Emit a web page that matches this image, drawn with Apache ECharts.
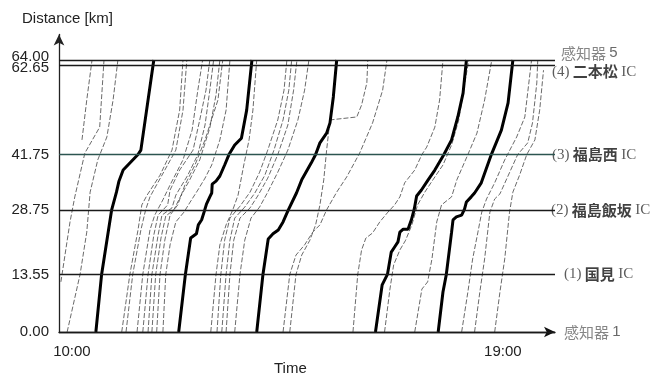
<!DOCTYPE html>
<html>
<head>
<meta charset="utf-8">
<script src="https://cdn.jsdelivr.net/npm/echarts@6/dist/echarts.min.js"></script>
<style>html,body{margin:0;padding:0;background:#fff}#main{width:655px;height:378px}</style>
</head>
<body>
<div id="main"></div>
<script>
// time in hours, distance in km
var timeMin = 9.73, timeMax = 20.09;
var timeLabels = [10, 19];
var distTicks = [0, 13.55, 28.75, 41.75, 62.65, 64.00];
var sectionNames = ['感知器 1', '(1) 国見 IC', '(2) 福島飯坂 IC', '(3) 福島西 IC', '(4) 二本松 IC', '感知器 5'];
var probeNames = ['probe 1', 'probe 2', 'probe 3', 'probe 4', 'probe 5'];

var probe1 = [[10.50,0],[10.62,13.55],[10.83,28.75],[10.93,32.9],[10.98,35.4],[11.07,38.1],[11.38,41.75],[11.44,42.8],[11.71,64]];
var probe2 = [[12.23,0],[12.37,13.55],[12.48,22.1],[12.60,23.1],[12.64,25.2],[12.71,26.4],[12.76,28.2],[12.81,30.1],[12.88,31.8],[12.92,32.7],[12.93,34.8],[13.01,35.5],[13.09,36.7],[13.19,39.3],[13.28,41.75],[13.40,44.0],[13.54,45.6],[13.65,52.2],[13.76,64]];
var probe3 = [[13.86,0],[13.99,13.55],[14.10,21.9],[14.20,23.1],[14.31,24.0],[14.41,25.9],[14.52,28.75],[14.69,32.7],[14.80,35.8],[15.00,39.8],[15.09,41.75],[15.18,44.5],[15.32,46.8],[15.39,49.2],[15.46,55.3],[15.53,64]];
var probe4 = [[16.34,0],[16.48,11.1],[16.59,13.55],[16.67,18.8],[16.74,20.0],[16.81,21.2],[16.85,23.5],[16.92,24.2],[17.02,24.2],[17.09,26.4],[17.15,28.9],[17.20,32.0],[17.30,33.4],[17.44,35.8],[17.58,38.1],[17.77,41.75],[17.93,45.2],[18.06,50.6],[18.17,56.2],[18.24,64]];
var probe5 = [[17.65,0],[17.75,9.4],[17.82,13.55],[17.93,23.5],[17.96,26.4],[18.03,27.1],[18.14,27.5],[18.20,28.9],[18.24,30.6],[18.34,31.8],[18.41,32.7],[18.55,35.1],[18.76,41.75],[18.97,47.5],[19.11,53.9],[19.21,64]];

// other vehicles (detector-based trajectories)
var vehicles = [
  [[9.77,11.8],[9.96,25.9],[10.06,31.8],[10.27,42.1],[10.58,48.2],[10.67,64]],
  [[9.90,0],[10.17,13.55],[10.31,23.5],[10.38,32.9],[10.54,40.5],[10.73,45.9],[10.86,54.6],[10.96,64]],
  [[10.21,45.2],[10.31,54.6],[10.42,64]],
  [[11.04,0],[11.21,13.55],[11.38,24.0],[11.46,29.9],[11.57,32.2],[11.84,36.9],[12.09,42.8],[12.25,52.2],[12.32,64]],
  [[11.13,0],[11.27,13.55],[11.44,24.0],[11.54,28.75],[11.63,31.8],[11.94,38.1],[12.17,42.8],[12.32,52.2],[12.40,64]],
  [[11.36,0],[11.48,13.55],[11.63,24.0],[11.73,27.5],[11.90,31.1],[12.05,34.6],[12.32,40.5],[12.51,47.5],[12.63,56.9],[12.73,64]],
  [[11.48,0],[11.59,13.55],[11.71,22.8],[11.80,27.5],[12.00,29.9],[12.05,33.4],[12.25,38.1],[12.53,42.8],[12.67,49.9],[12.80,56.9],[12.88,64]],
  [[11.59,0],[11.67,13.55],[11.80,22.8],[11.88,27.5],[12.09,29.2],[12.17,32.2],[12.42,36.9],[12.63,41.75],[12.78,48.7],[12.88,56.9],[12.96,64]],
  [[11.67,0],[11.75,13.55],[11.86,22.1],[11.96,27.3],[12.13,28.75],[12.25,31.5],[12.46,35.8],[12.67,40.5],[12.88,48.0],[13.01,55.8],[13.09,64]],
  [[11.77,0],[11.84,13.55],[11.94,21.6],[12.05,27.5],[12.21,29.9],[12.36,34.6],[12.57,39.3],[12.78,45.2],[13.05,54.6],[13.15,64]],
  [[11.90,0],[11.96,13.55],[12.05,20.5],[12.17,25.9],[12.34,28.2],[12.46,30.4],[12.63,33.4],[12.78,36.2],[12.92,39.3],[13.09,45.2],[13.22,52.2],[13.30,64]],
  [[12.90,0],[13.01,13.55],[13.09,20.5],[13.22,25.2],[13.36,28.75],[13.47,32.2],[13.59,39.3],[13.70,45.2],[13.78,52.2],[13.86,64]],
  [[13.03,0],[13.11,13.55],[13.19,21.6],[13.30,26.8],[13.51,29.6],[13.72,32.9],[13.92,37.6],[14.09,42.8],[14.30,49.9],[14.43,56.9],[14.49,64]],
  [[13.13,0],[13.22,13.55],[13.30,21.6],[13.40,26.8],[13.61,29.4],[13.82,32.7],[14.03,36.9],[14.22,42.8],[14.41,49.9],[14.53,56.9],[14.59,64]],
  [[13.22,0],[13.30,13.55],[13.38,21.6],[13.51,26.8],[13.72,29.2],[13.88,32.0],[14.09,36.2],[14.30,41.75],[14.51,48.7],[14.63,56.9],[14.70,64]],
  [[13.40,0],[13.51,13.55],[13.61,21.6],[13.74,26.8],[13.92,29.4],[14.09,32.9],[14.30,37.6],[14.51,42.8],[14.72,49.9],[14.86,56.9],[14.95,64]],
  [[14.41,0],[14.55,13.55],[14.68,18.1],[14.86,20.5],[15.03,23.5],[15.18,25.2],[15.32,28.75],[15.53,32.9],[15.74,36.5],[16.01,42.1],[16.28,49.2],[16.49,56.9],[16.58,64]],
  [[14.55,0],[14.68,13.55],[14.80,18.1],[14.97,21.6],[15.09,25.2],[15.18,29.9],[15.26,35.8],[15.32,42.8],[15.39,49.9],[15.95,50.6],[16.05,53.4],[16.16,58.6],[16.18,64]],
  [[15.87,0],[15.97,13.55],[16.05,19.3],[16.14,22.1],[16.28,23.3],[16.43,25.9],[16.60,28.2],[16.74,29.9],[16.85,31.8],[16.95,35.1],[17.16,38.1],[17.31,41.75],[17.41,43.5],[17.58,48.2],[17.68,54.6],[17.75,64]],
  [[16.53,0],[16.64,9.9],[16.72,15.8],[16.85,19.3],[16.97,21.6],[17.10,25.2],[17.22,29.9],[17.37,32.9],[17.54,35.8],[17.75,39.3],[17.93,44.0],[18.08,49.9],[18.18,56.9],[18.29,64]],
  [[17.16,0],[17.31,10.1],[17.43,11.8],[17.52,17.2],[17.62,25.9],[17.72,29.9],[17.93,31.8],[18.04,35.8],[18.27,41.75],[18.46,46.8],[18.62,54.6],[18.77,64]],
  [[18.14,0],[18.27,9.4],[18.37,17.2],[18.48,23.5],[18.56,28.2],[18.66,31.3],[18.83,35.1],[19.04,40.5],[19.29,45.9],[19.46,50.6],[19.60,64]],
  [[18.41,0],[18.52,9.4],[18.62,17.2],[18.73,28.2],[18.83,31.3],[18.94,32.5],[19.10,36.5],[19.31,41.75],[19.52,44.5],[19.62,49.2],[19.71,58.6],[19.73,64]],
  [[18.83,0],[18.94,9.4],[19.04,17.2],[19.14,28.2],[19.21,32.9],[19.35,36.9],[19.50,41.75],[19.67,45.2],[19.77,52.2],[19.85,61.6]]
];

var chart = echarts.init(document.getElementById('main'));

var series = [];
vehicles.forEach(function (v) {
  series.push({
    type: 'line', data: v, symbol: 'none', silent: true, z: 2,
    lineStyle: { color: '#444', width: 0.8, type: [5, 2] }
  });
});

var probes = [probe1, probe2, probe3, probe4, probe5];
var probeLabelDx = [-4, -10, -10, -8, 9];
probes.forEach(function (p, i) {
  var data = p.map(function (pt, k) {
    if (k < p.length - 1) return pt;
    return {
      value: pt,
      label: {
        show: true, position: 'top', distance: 7, offset: [probeLabelDx[i], 0],
        formatter: probeNames[i], fontFamily: 'Liberation Sans', fontSize: 15, color: '#111'
      }
    };
  });
  series.push({
    type: 'line', data: data, symbol: 'none', silent: true, z: 3,
    lineStyle: { color: '#000', width: 3 }
  });
});

// detector / interchange lines
series.push({
  type: 'line', data: [], silent: true,
  markLine: {
    silent: true, symbol: 'none', label: { show: false },
    lineStyle: { color: '#1a1a1a', width: 1.4, type: 'solid' },
    data: distTicks.map(function (d) {
      var item = { yAxis: d };
      if (d === 41.75) item.lineStyle = { color: '#2c5550', width: 1.4, type: 'solid' };
      return item;
    })
  }
});

// names on the right
var nameOffsets = [[9, 0], [9, 0], [-4, 0], [-3, 0], [-3, 6], [6, -7]];
series.push({
  type: 'scatter', symbolSize: 0, silent: true, clip: false,
  data: distTicks.map(function (d, i) {
    return {
      value: [timeMax, d, sectionNames[i]],
      label: { offset: nameOffsets[i] }
    };
  }),
  label: {
    show: true, position: 'right', distance: 0,
    formatter: function (p) {
      var parts = p.value[2].split(' ');
      if (parts[0] === '感知器') return '{s|' + parts[0] + '} {d|' + parts[1] + '}';
      return '{n|' + parts[0] + '} {j|' + parts[1] + '} {n|' + parts[2] + '}';
    },
    rich: {
      n: { fontFamily: 'Liberation Serif', fontSize: 15, color: '#333' },
      j: { fontFamily: 'Noto Sans CJK JP', fontSize: 15, fontWeight: 'bold', color: '#111' },
      s: { fontFamily: 'Noto Sans CJK JP', fontSize: 15, color: '#666' },
      d: { fontFamily: 'Liberation Sans', fontSize: 15, color: '#444' }
    }
  }
});

function distLabel(v) {
  var t = v.toFixed(2);
  if (v === 64) return '{up|' + t + '}';
  if (v === 62.65) return '{dn|' + t + '}';
  return '{n|' + t + '}';
}
var distRich = {
  n: { fontFamily: 'Liberation Sans', fontSize: 15, color: '#222' },
  up: { fontFamily: 'Liberation Sans', fontSize: 15, color: '#222', padding: [0, 0, 6, 0] },
  dn: { fontFamily: 'Liberation Sans', fontSize: 15, color: '#222', padding: [4, 0, 0, 0] }
};

var option = {
  animation: false,
  backgroundColor: '#fff',
  grid: { left: 59, right: 100, top: 34.5, bottom: 46, containLabel: false, outerBoundsMode: 'none' },
  xAxis: {
    type: 'value', min: timeMin, max: timeMax,
    axisLine: { show: true, symbol: ['none', 'arrow'], symbolSize: [8, 11], lineStyle: { color: '#111', width: 1.3 } },
    axisTick: { show: false },
    splitLine: { show: false },
    axisLabel: {
      customValues: timeLabels, margin: 12,
      fontFamily: 'Liberation Sans', fontSize: 15, color: '#222',
      formatter: function (v) { return v + ':00'; }
    }
  },
  yAxis: [{
    type: 'value', min: 0, max: 70,
    axisLine: { show: true, symbol: ['none', 'arrow'], symbolSize: [8, 11], lineStyle: { color: '#222', width: 1.3 } },
    axisTick: { show: false },
    splitLine: { show: false },
    axisLabel: {
      customValues: distTicks.slice(0, 5), margin: 10, hideOverlap: false,
      formatter: distLabel, rich: distRich
    }
  }, {
    // second axis only carries the top label so it is not dropped as overlapping
    type: 'value', min: 0, max: 70, position: 'left',
    axisLine: { show: false }, axisTick: { show: false }, splitLine: { show: false },
    axisLabel: {
      customValues: distTicks.slice(5), margin: 10,
      formatter: distLabel, rich: distRich
    }
  }],
  graphic: [
    { type: 'text', left: 22, top: 11, style: { text: 'Distance [km]', font: '15px "Liberation Sans"', fill: '#222' } },
    { type: 'text', left: 274, top: 361, style: { text: 'Time', font: '15px "Liberation Sans"', fill: '#222' } }
  ],
  series: series
};
chart.setOption(option);
window.addEventListener('resize', function () { chart.resize(); });
</script>
</body>
</html>
